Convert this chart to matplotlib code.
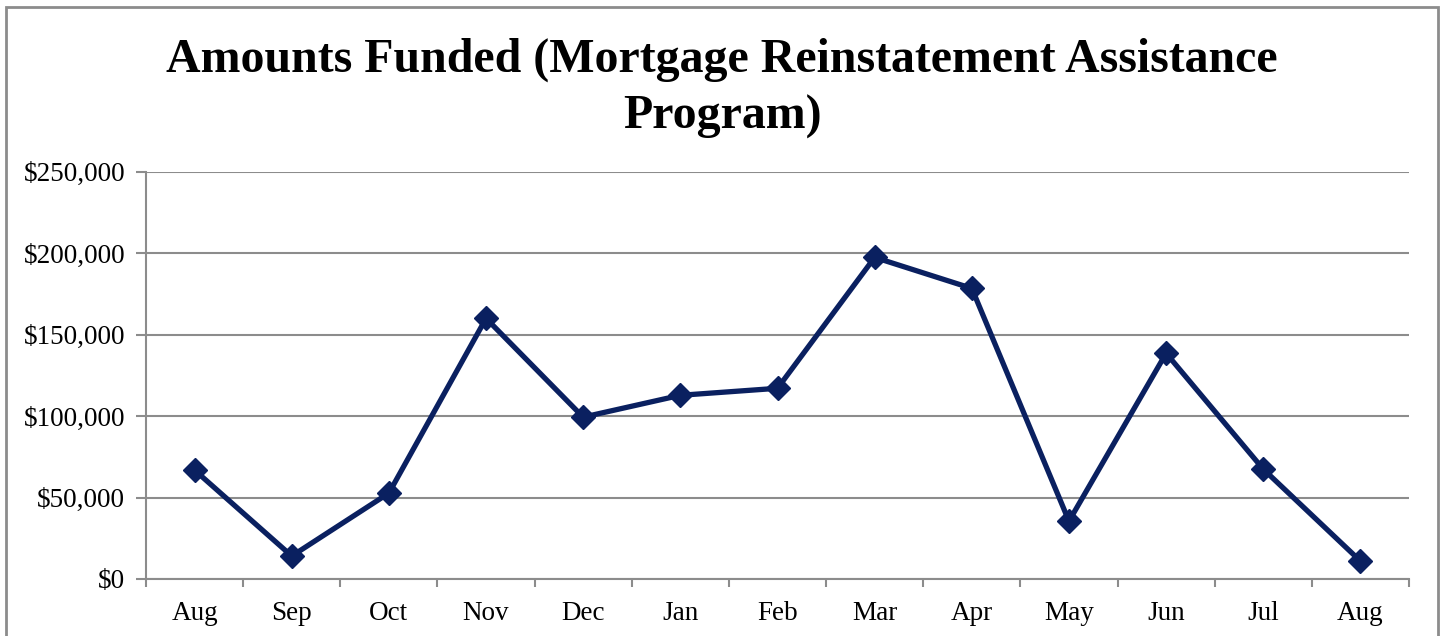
import matplotlib.pyplot as plt
from matplotlib.patches import Rectangle
from matplotlib.ticker import FuncFormatter, FixedLocator

# Data
months = ['Aug', 'Sep', 'Oct', 'Nov', 'Dec', 'Jan', 'Feb', 'Mar', 'Apr', 'May', 'Jun', 'Jul', 'Aug']
amounts = [66800, 14100, 52700, 159900, 99300, 112700, 117000, 197300, 178300, 35500, 138500, 67400, 11000]

plt.rcParams['font.family'] = ['Liberation Serif', 'DejaVu Serif']

fig = plt.figure(figsize=(14.4, 6.36), dpi=100)
ax = fig.add_axes([146 / 1440, 1 - 579 / 636, (1409 - 146) / 1440, (579 - 171.5) / 636])

x = range(len(months))
ax.plot(x, amounts, color='#0A2060', linewidth=3.8, marker='D', markersize=12,
        solid_joinstyle='miter')

# Axes styling
ax.set_xlim(-0.5, len(months) - 0.5)
ax.set_ylim(0, 250000)
ax.set_yticks(range(0, 250001, 50000))
ax.yaxis.set_major_formatter(FuncFormatter(lambda v, p: '${:,.0f}'.format(v)))
ax.set_xticks(list(x))
ax.set_xticklabels(months)
ax.xaxis.set_minor_locator(FixedLocator([i - 0.5 for i in range(len(months) + 1)]))
ax.tick_params(axis='x', which='major', length=0, labelsize=19.5, pad=16)
ax.tick_params(axis='x', which='minor', length=6, color='#8c8c8c', width=1.5)
ax.tick_params(axis='y', length=7, color='#8c8c8c', width=1.5, labelsize=19.5, pad=8)
ax.grid(axis='y', color='#8c8c8c', linewidth=1.5)
ax.set_axisbelow(True)
for side in ['top', 'right']:
    ax.spines[side].set_visible(False)
for side in ['left', 'bottom']:
    ax.spines[side].set_color('#8c8c8c')
    ax.spines[side].set_linewidth(1.5)

fig.text(0.5015, 1 - 88.5 / 636, 'Amounts Funded (Mortgage Reinstatement Assistance\nProgram)',
         ha='center', va='center', fontsize=34.5, fontweight='bold', linespacing=1.37)

# Chart border
fig.patches.append(Rectangle((6 / 1440, -0.05), (1438 - 6) / 1440, 1 - 7 / 636 + 0.05,
                             transform=fig.transFigure, fill=False,
                             edgecolor='#8c8c8c', linewidth=2))

fig.savefig('out.png', dpi=100)
